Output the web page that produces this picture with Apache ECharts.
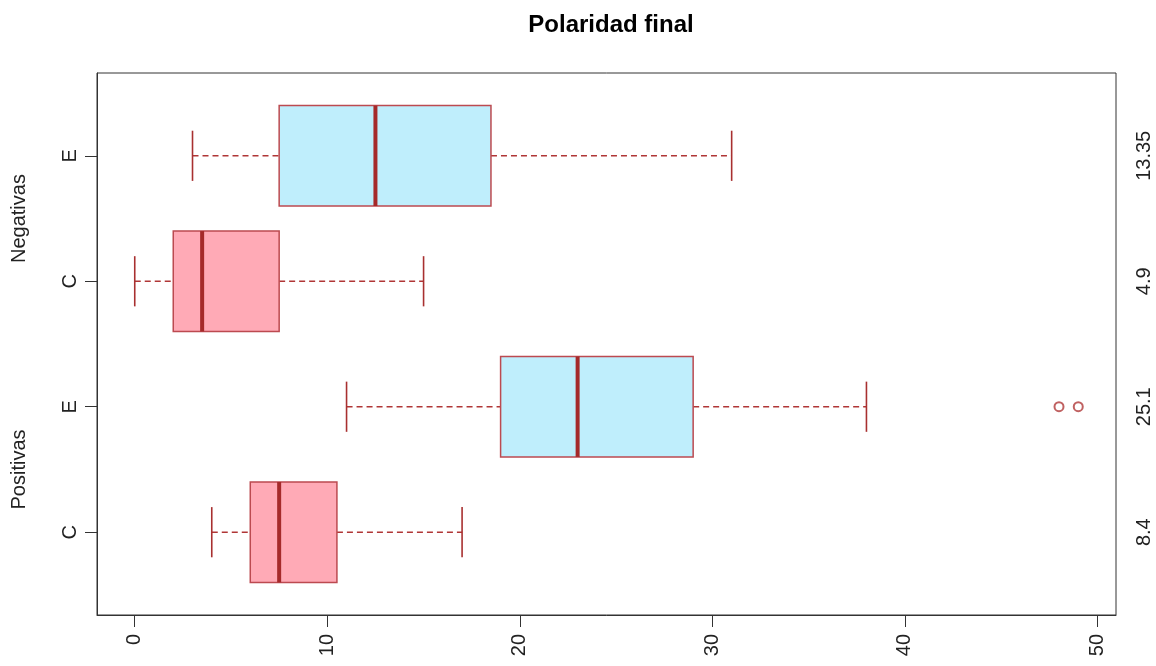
<!DOCTYPE html>
<html>
<head>
<meta charset="utf-8">
<script src="https://cdn.jsdelivr.net/npm/echarts@6/dist/echarts.min.js"></script>
<style>html,body{margin:0;padding:0;background:#fff}#c{width:1156px;height:666px}</style>
</head>
<body>
<div id="c"></div>
<script>
// Data (bottom to top positions 1..4)
const groups = ['Positivas', 'Negativas'];
const categories = ['C', 'E', 'C', 'E'];
const whiskerLow = [4, 11, 0, 3];
const q1 = [6, 19, 2, 7.5];
const median = [7.5, 23, 3.5, 12.5];
const q3 = [10.5, 29, 7.5, 18.5];
const whiskerHigh = [17, 38, 15, 31];
const means = ['8.4', '25.1', '4.9', '13.35'];
const outlierValues = [48, 49];
const outlierPos = [2, 2];
const xTicks = [0, 10, 20, 30, 40, 50];

const fills = { C: '#FFAAB6', E: '#BFEEFC' };
const lineCol = '#A52A2A';

const boxData = categories.map((c, i) => [i + 1, whiskerLow[i], q1[i], median[i], q3[i], whiskerHigh[i]]);
const outData = outlierValues.map((v, i) => [v, outlierPos[i]]);

const font = 'Liberation Sans, Arial, sans-serif';

function renderBox(params, api) {
  const y = api.value(0);
  const lo = api.value(1), a = api.value(2), m = api.value(3), b = api.value(4), hi = api.value(5);
  const cat = categories[params.dataIndex];
  const pLo = api.coord([lo, y]), pA = api.coord([a, y]), pM = api.coord([m, y]);
  const pB = api.coord([b, y]), pHi = api.coord([hi, y]);
  const half = api.size([0, 0.4])[1];
  const cap = api.size([0, 0.2])[1];
  const cy = pLo[1];
  const wStyle = { stroke: '#B03636', lineWidth: 1.6, lineDash: [6, 4] };
  const cStyle = { stroke: '#A83030', lineWidth: 1.6 };
  return {
    type: 'group',
    children: [
      { type: 'line', shape: { x1: pLo[0], y1: cy, x2: pA[0], y2: cy }, style: wStyle },
      { type: 'line', shape: { x1: pB[0], y1: cy, x2: pHi[0], y2: cy }, style: wStyle },
      { type: 'line', shape: { x1: pLo[0], y1: cy - cap, x2: pLo[0], y2: cy + cap }, style: cStyle },
      { type: 'line', shape: { x1: pHi[0], y1: cy - cap, x2: pHi[0], y2: cy + cap }, style: cStyle },
      { type: 'rect', shape: { x: pA[0], y: cy - half, width: pB[0] - pA[0], height: 2 * half }, style: { fill: fills[cat], stroke: '#BC4A50', lineWidth: 1.5 } },
      { type: 'line', shape: { x1: pM[0], y1: cy - half, x2: pM[0], y2: cy + half }, style: { stroke: lineCol, lineWidth: 4 } }
    ]
  };
}

const chart = echarts.init(document.getElementById('c'), null, { renderer: 'canvas' });
chart.setOption({
  animation: false,
  backgroundColor: '#fff',
  title: {
    text: 'Polaridad final', left: 606, top: 8, textAlign: 'center',
    textStyle: { fontFamily: font, fontSize: 24, fontWeight: 'bold', color: '#000' }
  },
  grid: { left: 97, right: 40, top: 73, bottom: 51, show: true, borderColor: '#333', borderWidth: 1, backgroundColor: 'transparent' },
  xAxis: {
    type: 'value', min: -1.96, max: 50.96,
    splitLine: { show: false },
    axisLine: { show: true, onZero: false, lineStyle: { color: '#333' } },
    axisTick: { show: true, length: 12, customValues: xTicks, lineStyle: { color: '#333' } },
    axisLabel: { customValues: xTicks, rotate: 90, margin: 19, fontFamily: font, fontSize: 20, color: '#222' }
  },
  yAxis: [
    {
      type: 'value', min: 0.34, max: 4.66, position: 'left',
      splitLine: { show: false },
      axisLine: { show: true, onZero: false, lineStyle: { color: '#333' } },
      axisTick: { show: true, length: 12, customValues: [1, 2, 3, 4], lineStyle: { color: '#333' } },
      axisLabel: { customValues: [1, 2, 3, 4], rotate: 90, margin: 17, fontFamily: font, fontSize: 20, color: '#222',
        formatter: v => categories[Math.round(v) - 1] }
    },
    {
      type: 'value', min: 0.34, max: 4.66, position: 'left',
      splitLine: { show: false }, axisLine: { show: false, onZero: false }, axisTick: { show: false },
      axisLabel: { customValues: [1.5, 3.5], rotate: 90, margin: 68, fontFamily: font, fontSize: 20, color: '#222',
        formatter: v => groups[v < 2.5 ? 0 : 1] }
    },
    {
      type: 'value', min: 0.34, max: 4.66, position: 'right',
      splitLine: { show: false }, axisLine: { show: false, onZero: false }, axisTick: { show: false },
      axisLabel: { customValues: [1, 2, 3, 4], rotate: 90, margin: 18, fontFamily: font, fontSize: 20, color: '#222',
        formatter: v => means[Math.round(v) - 1] }
    }
  ],
  series: [
    {
      type: 'custom', xAxisIndex: 0, yAxisIndex: 0,
      renderItem: renderBox,
      encode: { x: [1, 2, 3, 4, 5], y: 0 },
      data: boxData, clip: false
    },
    {
      type: 'scatter', xAxisIndex: 0, yAxisIndex: 0,
      symbol: 'emptyCircle', symbolSize: 9,
      itemStyle: { color: '#B03A3A', borderColor: '#B03A3A', borderWidth: 1.5 },
      data: outData
    }
  ]
});
</script>
</body>
</html>
